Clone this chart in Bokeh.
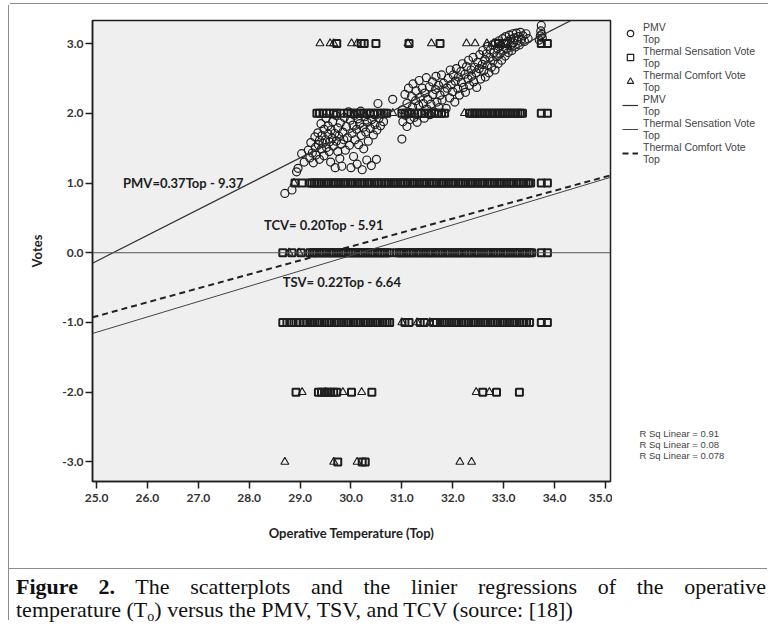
from bokeh.plotting import figure
from bokeh.layouts import column, row
from bokeh.models import (Legend, LegendItem, Label, Span, FixedTicker, Div,
                          PrintfTickFormatter, Range1d)
from bokeh.embed import file_html
from bokeh.resources import INLINE

# ---------------- data ----------------
x_ticks = [25.0, 26.0, 27.0, 28.0, 29.0, 30.0, 31.0, 32.0, 33.0, 34.0, 35.0]
y_ticks = [-3.0, -2.0, -1.0, 0.0, 1.0, 2.0, 3.0]

# PMV (computed) vs operative temperature: (Top, PMV)
pmv_pairs = [
    (28.70, 0.85), (28.84, 0.90), (28.93, 1.16), (28.96, 1.21), (29.03, 1.42), (29.08, 1.30),
    (29.16, 1.47), (29.19, 1.36),
    (29.21, 1.58), (29.24, 1.43), (29.26, 1.29), (29.29, 1.66), (29.30, 1.51), (29.31, 1.40),
    (29.35, 1.72), (29.36, 1.55), (29.38, 1.61), (29.38, 1.34), (29.41, 1.85), (29.42, 1.49),
    (29.43, 1.68), (29.45, 1.57), (29.47, 1.77), (29.47, 1.39), (29.50, 1.62), (29.51, 1.93),
    (29.52, 1.51), (29.55, 1.70), (29.55, 1.82), (29.57, 1.45), (29.58, 1.59), (29.60, 1.30),
    (29.61, 1.76), (29.63, 1.64), (29.64, 1.88), (29.65, 1.53), (29.68, 1.71), (29.69, 1.22),
    (29.70, 1.97), (29.71, 1.60), (29.74, 1.45), (29.74, 1.79), (29.76, 1.67), (29.78, 1.35),
    (29.79, 1.86), (29.81, 1.56), (29.82, 1.24), (29.84, 1.73), (29.86, 1.62), (29.87, 1.94),
    (29.89, 1.47),
    (29.91, 1.81), (29.93, 1.65), (29.95, 2.02), (29.97, 1.54), (29.99, 1.90), (30.00, 1.22),
    (30.02, 1.71), (30.04, 1.83), (30.05, 1.38), (30.07, 1.97), (30.08, 1.62), (30.11, 1.77),
    (30.12, 1.27), (30.14, 1.92), (30.15, 1.55), (30.17, 1.85), (30.19, 2.03), (30.20, 1.68),
    (30.22, 1.19), (30.24, 1.80), (30.25, 1.49), (30.27, 1.95), (30.29, 1.73), (30.31, 1.33),
    (30.32, 1.87), (30.34, 1.60), (30.36, 2.00), (30.38, 1.78), (30.40, 1.25), (30.41, 1.91),
    (30.44, 1.69), (30.46, 1.98), (30.47, 1.84), (30.50, 1.34), (30.51, 1.76), (30.53, 2.14),
    (30.55, 1.93), (30.58, 1.82), (30.61, 1.99), (30.64, 1.88), (30.82, 2.20),
    (31.00, 1.63), (31.01, 2.05), (31.02, 1.88), (31.06, 2.27), (31.07, 1.97), (31.10, 2.14),
    (31.10, 1.81), (31.13, 2.36), (31.15, 2.01), (31.16, 1.91), (31.19, 2.24), (31.21, 2.09),
    (31.22, 2.42), (31.24, 1.94), (31.27, 2.18), (31.28, 2.32), (31.30, 1.87), (31.33, 2.11),
    (31.34, 2.47), (31.36, 2.23), (31.38, 2.00), (31.40, 2.36), (31.42, 2.14), (31.44, 1.93),
    (31.45, 2.29), (31.48, 2.51), (31.49, 2.06), (31.51, 2.20), (31.54, 2.38), (31.55, 1.98),
    (31.57, 2.13), (31.60, 2.45), (31.61, 2.27), (31.63, 2.02), (31.66, 2.34), (31.67, 2.53),
    (31.69, 2.16), (31.72, 2.40), (31.73, 2.08), (31.75, 2.26), (31.78, 2.55), (31.79, 2.19),
    (31.82, 2.43), (31.84, 2.31), (31.87, 2.07),
    (31.89, 2.36), (31.91, 2.50), (31.94, 2.22), (31.95, 2.62), (31.97, 2.41), (32.00, 2.31),
    (32.01, 2.55), (32.04, 2.16), (32.05, 2.46), (32.07, 2.64), (32.10, 2.35), (32.11, 2.52),
    (32.13, 2.26), (32.16, 2.60), (32.17, 2.44), (32.19, 2.71), (32.21, 2.37), (32.24, 2.56),
    (32.25, 2.30), (32.27, 2.67), (32.30, 2.49), (32.31, 2.76), (32.33, 2.40), (32.36, 2.62),
    (32.37, 2.53), (32.40, 2.80), (32.41, 2.45), (32.43, 2.66), (32.46, 2.58), (32.47, 2.37),
    (32.49, 2.73), (32.52, 2.64), (32.53, 2.84), (32.55, 2.49), (32.58, 2.70),
    (32.59, 2.90), (32.61, 2.61), (32.63, 2.77), (32.64, 2.52), (32.66, 2.85), (32.68, 2.69),
    (32.69, 2.96), (32.71, 2.58), (32.73, 2.80), (32.74, 2.91), (32.76, 2.66), (32.78, 2.98),
    (32.79, 2.75), (32.81, 2.87), (32.83, 2.62), (32.84, 3.01), (32.86, 2.81), (32.88, 2.93),
    (32.89, 2.71), (32.91, 3.04), (32.93, 2.85), (32.94, 2.97), (32.96, 2.76), (32.98, 3.07),
    (32.99, 2.90), (33.01, 3.00), (33.03, 2.82), (33.04, 3.10), (33.06, 2.93), (33.08, 3.03),
    (33.09, 2.87), (33.11, 3.12), (33.13, 2.97), (33.14, 3.06), (33.16, 2.90), (33.18, 3.14),
    (33.19, 3.01), (33.21, 3.08), (33.23, 2.95), (33.25, 3.15), (33.27, 3.04), (33.29, 3.10),
    (33.31, 2.98), (33.33, 3.16), (33.35, 3.06), (33.38, 3.11), (33.41, 3.03), (33.44, 3.14),
    (33.48, 3.07),
    (33.70, 3.05), (33.72, 3.11), (33.73, 3.18), (33.74, 3.26), (33.75, 3.13), (33.76, 3.08),
]

# Thermal Sensation Vote: temperatures of respondents per vote level
tsv_at_3 = [29.72, 30.20, 30.26, 30.49, 31.14, 31.75, 32.90, 33.05, 33.74, 33.86]
tsv_at_2 = [29.33, 29.38, 29.45, 29.52, 29.58, 29.66, 29.72, 29.80, 29.93, 30.00, 30.06,
            30.12, 30.18, 30.25, 30.31, 30.38, 30.45, 30.52, 30.58, 30.65, 30.70, 31.00,
            31.06, 31.12, 31.18, 31.25, 31.32, 31.38, 31.45, 31.52, 31.58, 31.65, 31.72,
            31.78, 31.84, 32.33, 32.38, 32.43, 32.48, 32.53, 32.58, 32.63, 32.68, 32.73,
            32.78, 32.83, 32.88, 32.93, 32.98, 33.03, 33.08, 33.13, 33.18, 33.23, 33.28,
            33.33, 33.37, 33.74, 33.86]
tsv_at_1 = [28.90, 29.04, 29.19, 29.23, 29.28, 29.33, 29.37, 29.42, 29.47, 29.52, 29.56,
            29.61, 29.66, 29.70, 29.75, 29.80, 29.85, 29.89, 29.94, 29.99, 30.03, 30.08,
            30.13, 30.18, 30.22, 30.27, 30.32, 30.36, 30.41, 30.46, 30.51, 30.55, 30.60,
            30.65, 30.69, 30.74, 30.79, 30.84, 30.88, 30.92, 30.97, 31.02, 31.06, 31.11,
            31.16, 31.21, 31.25, 31.30, 31.35, 31.40, 31.44, 31.49, 31.54, 31.59, 31.63,
            31.68, 31.73, 31.78, 31.82, 31.87, 31.92, 31.97, 32.01, 32.06, 32.11, 32.16,
            32.20, 32.25, 32.30, 32.35, 32.39, 32.44, 32.49, 32.54, 32.58, 32.63, 32.68,
            32.73, 32.77, 32.82, 32.87, 32.92, 32.96, 33.01, 33.06, 33.11, 33.15, 33.20,
            33.25, 33.30, 33.34, 33.39, 33.44, 33.49, 33.53, 33.74, 33.86]
tsv_at_0 = [28.66, 28.84, 29.02, 29.19, 29.24, 29.28, 29.33, 29.38, 29.43, 29.47, 29.52,
            29.57, 29.62, 29.66, 29.71, 29.76, 29.81, 29.85, 29.90, 29.95, 30.00, 30.04,
            30.09, 30.14, 30.19, 30.23, 30.28, 30.33, 30.38, 30.42, 30.47, 30.52, 30.57,
            30.61, 30.66, 30.71, 30.76, 30.90, 30.95, 30.99, 31.04, 31.09, 31.14, 31.18,
            31.23, 31.28, 31.33, 31.37, 31.42, 31.47, 31.52, 31.56, 31.61, 31.66, 31.71,
            31.75, 31.80, 31.85, 31.90, 31.94, 31.99, 32.04, 32.09, 32.13, 32.18, 32.23,
            32.28, 32.32, 32.37, 32.42, 32.47, 32.51, 32.56, 32.61, 32.66, 32.70, 32.75,
            32.80, 32.85, 32.89, 32.94, 32.99, 33.04, 33.08, 33.13, 33.18, 33.23, 33.27,
            33.32, 33.37, 33.42, 33.46, 33.51, 33.55, 33.74, 33.86]
tsv_at_m1 = [28.66, 28.74, 28.83, 28.92, 29.00, 29.08, 29.13, 29.19, 29.24, 29.29, 29.34,
             29.38, 29.43, 29.48, 29.53, 29.57, 29.62, 29.67, 29.72, 29.76, 29.81, 29.86,
             29.91, 29.95, 30.00, 30.05, 30.10, 30.14, 30.19, 30.24, 30.29, 30.33, 30.38,
             30.43, 30.48, 30.52, 30.57, 30.62, 30.67, 30.71, 30.76, 31.06, 31.14, 31.36,
             31.44, 31.62, 31.68, 31.79, 31.84, 31.88, 31.93, 31.98, 32.03, 32.07, 32.12,
             32.17, 32.22, 32.26, 32.31, 32.36, 32.41, 32.45, 32.50, 32.55, 32.60, 32.64,
             32.69, 32.74, 32.79, 32.83, 32.88, 32.93, 32.98, 33.02, 33.07, 33.12, 33.17,
             33.21, 33.26, 33.31, 33.36, 33.40, 33.45, 33.51, 33.74, 33.86]
tsv_at_m2 = [28.92, 29.36, 29.42, 29.48, 29.54, 29.60, 29.66, 29.72, 30.01, 30.41, 32.59,
             32.86, 33.31]
tsv_at_m3 = [29.74, 30.22, 30.28]

# Thermal Comfort Vote: temperatures of respondents per vote level
tcv_at_3 = [29.39, 29.59, 29.66, 30.01, 30.12, 31.12, 31.58, 32.27, 32.44, 32.67, 32.80, 32.95]
tcv_at_2 = [30.82, 32.23]
tcv_at_1 = [28.88]
tcv_at_0 = [28.78, 28.98]
tcv_at_m1 = [31.00, 31.30, 31.55]
tcv_at_m2 = [29.04, 29.50, 29.84, 30.21, 32.46, 32.72]
tcv_at_m3 = [28.70, 29.66, 30.12, 32.14, 32.37]

# linear fits (slope, intercept) and R squared
fit_pmv = (0.37, -9.37)
fit_tsv = (0.22, -6.64)
fit_tcv = (0.20, -5.91)
r_squared = ["0.91", "0.08", "0.078"]

legend_labels = ["PMV\nTop", "Thermal Sensation Vote\nTop", "Thermal Comfort Vote\nTop",
                 "PMV\nTop", "Thermal Sensation Vote\nTop", "Thermal Comfort Vote\nTop"]

# ---------------- build ----------------
INK = "#1e1e1e"
FONT = "Lato"
GRAYLINE = "1px solid #8c8c8c"
X0, X1 = 24.92, 35.1
ROW_H = 563
NAN = float("nan")

pmv_t = [a for a, b in pmv_pairs]
pmv_v = [b for a, b in pmv_pairs]

def stack(rows):
    ts, vs = [], []
    for v, arr in rows:
        ts += arr
        vs += [v] * len(arr)
    return ts, vs

tsv_t, tsv_v = stack([(3, tsv_at_3), (2, tsv_at_2), (1, tsv_at_1), (0, tsv_at_0),
                      (-1, tsv_at_m1), (-2, tsv_at_m2), (-3, tsv_at_m3)])
tcv_t, tcv_v = stack([(3, tcv_at_3), (2, tcv_at_2), (1, tcv_at_1), (0, tcv_at_0),
                      (-1, tcv_at_m1), (-2, tcv_at_m2), (-3, tcv_at_m3)])

p = figure(width=603, height=ROW_H, output_backend="svg", toolbar_location=None,
           x_range=Range1d(X0, X1), y_range=Range1d(-3.28, 3.33),
           min_border_left=83, min_border_right=2, min_border_top=15,
           min_border_bottom=87)
p.background_fill_color = "#efefef"
p.border_fill_color = "white"
p.outline_line_color = INK
p.outline_line_width = 1.5
p.grid.visible = False

for ax in (p.xaxis[0], p.yaxis[0]):
    ax.major_tick_out = 7
    ax.major_tick_in = 0
    ax.minor_tick_line_color = None
    ax.axis_line_color = INK
    ax.axis_line_width = 1.5
    ax.major_tick_line_color = INK
    ax.major_tick_line_width = 1.5
    ax.major_label_text_font = FONT
    ax.major_label_text_font_style = "bold"
    ax.major_label_text_font_size = "12px"
    ax.major_label_text_color = "#333333"
    ax.axis_label_text_font = FONT
    ax.axis_label_text_font_style = "bold"
    ax.axis_label_text_font_size = "13px"
    ax.axis_label_text_color = "#222222"
    ax.formatter = PrintfTickFormatter(format="%.1f")

p.xaxis.ticker = FixedTicker(ticks=x_ticks)
p.yaxis.ticker = FixedTicker(ticks=y_ticks)
p.xaxis.axis_label = "Operative Temperature (Top)"
p.yaxis.axis_label = "Votes"
p.xaxis.major_label_standoff = 5
p.yaxis.major_label_standoff = 2
p.xaxis.axis_label_standoff = 20
p.yaxis.axis_label_standoff = 14

p.add_layout(Span(location=0, dimension="width", line_color="#555555", line_width=1))

sq_style = dict(marker="square", size=7, fill_color=None, line_color=INK, line_width=2.0)
tri_style = dict(marker="triangle", size=8, fill_color=None, line_color=INK, line_width=1.1)
cir_style = dict(marker="circle", size=8, fill_color=None, line_color=INK, line_width=1.2)
pmv_line = dict(line_color="#333333", line_width=1.2)
tsv_line = dict(line_color="#444444", line_width=1)
tcv_line = dict(line_color="#222222", line_width=2, line_dash="6 4")

p.scatter(tsv_t, tsv_v, **sq_style)
p.scatter(tcv_t, tcv_v, **tri_style)
p.scatter(pmv_t, pmv_v, **cir_style)

xs = [X0, X1]
p.line(xs, [fit_pmv[0] * x + fit_pmv[1] for x in xs], **pmv_line)
p.line(xs, [fit_tsv[0] * x + fit_tsv[1] for x in xs], **tsv_line)
p.line(xs, [fit_tcv[0] * x + fit_tcv[1] for x in xs], **tcv_line)

def eq_label(x, y, text):
    p.add_layout(Label(x=x, y=y, text=text, text_font=FONT, text_font_style="bold",
                       text_font_size="13px", text_color="#1e1e1e", text_baseline="middle"))

eq_label(25.52, 1.0, "PMV=0.37Top - 9.37")
eq_label(28.29, 0.40, "TCV= 0.20Top - 5.91")
eq_label(28.66, -0.42, "TSV= 0.22Top - 6.64")

# ---- right-hand key panel (legend + R squared); its frame aligns with the main frame ----
side = figure(width=153, height=ROW_H, output_backend="svg", toolbar_location=None,
              x_range=Range1d(0, 144), y_range=Range1d(461, 0),
              min_border_left=9, min_border_right=0, min_border_top=15,
              min_border_bottom=87, x_axis_type=None, y_axis_type=None)
side.outline_line_color = None
side.background_fill_color = "white"
side.border_fill_color = "white"
k_pmv = side.scatter([NAN], [NAN], **cir_style)
k_tsv = side.scatter([NAN], [NAN], **dict(sq_style, line_width=1.2))
k_tcv = side.scatter([NAN], [NAN], **tri_style)
kl_pmv = side.line([NAN, NAN], [NAN, NAN], **pmv_line)
kl_tsv = side.line([NAN, NAN], [NAN, NAN], **tsv_line)
kl_tcv = side.line([NAN, NAN], [NAN, NAN], **tcv_line)
keys = [k_pmv, k_tsv, k_tcv, kl_pmv, kl_tsv, kl_tcv]
legend = Legend(items=[LegendItem(label=t, renderers=[r]) for t, r in zip(legend_labels, keys)],
                location="top_left")
legend.border_line_color = None
legend.background_fill_alpha = 0
legend.margin = 1
legend.padding = 1
legend.spacing = 0
legend.glyph_width = 16
legend.glyph_height = 16
legend.label_height = 16
legend.label_standoff = 5
legend.label_text_font = "Liberation Sans"
legend.label_text_font_size = "10.5px"
legend.label_text_color = "#444444"
legend.label_text_line_height = 1.05
side.add_layout(legend)

for i, rs in enumerate(r_squared):
    side.add_layout(Label(x=18, y=413 + 11 * i, text="R Sq Linear = " + rs,
                          text_font="Liberation Sans", text_font_size="9.5px",
                          text_color="#444444", text_baseline="middle"))

# ---- caption ----
caption_html = (
    '<div style="box-sizing:content-box; font-family:\'Liberation Serif\',serif;'
    ' font-size:22px; line-height:23px; color:#111; padding:6px 0 0 7px; width:750px;">'
    '<div style="text-align:justify; text-align-last:justify;">'
    '<b>Figure 2.</b> The scatterplots and the linier regressions of the operative</div>'
    '<div style="white-space:nowrap;">temperature (T<sub style="font-size:14px;'
    ' line-height:0; vertical-align:-4px;">o</sub>) versus the PMV, TSV, and TCV'
    ' (source: [18])</div></div>'
)
caption = Div(text=caption_html, width=758, height=52, margin=0,
              styles={"border-top": GRAYLINE})

top_row = row(Div(width=10, height=5, margin=0),
              Div(width=758, height=4, margin=0, styles={"border-bottom": GRAYLINE}))
mid_row = row(Div(width=9, height=ROW_H, margin=0, styles={"border-right": GRAYLINE}), p, side)
bot_row = row(Div(width=9, height=52, margin=0, styles={"border-right": GRAYLINE}), caption)
layout = column(top_row, mid_row, bot_row)

open("out.html", "w").write(file_html(layout, INLINE))
